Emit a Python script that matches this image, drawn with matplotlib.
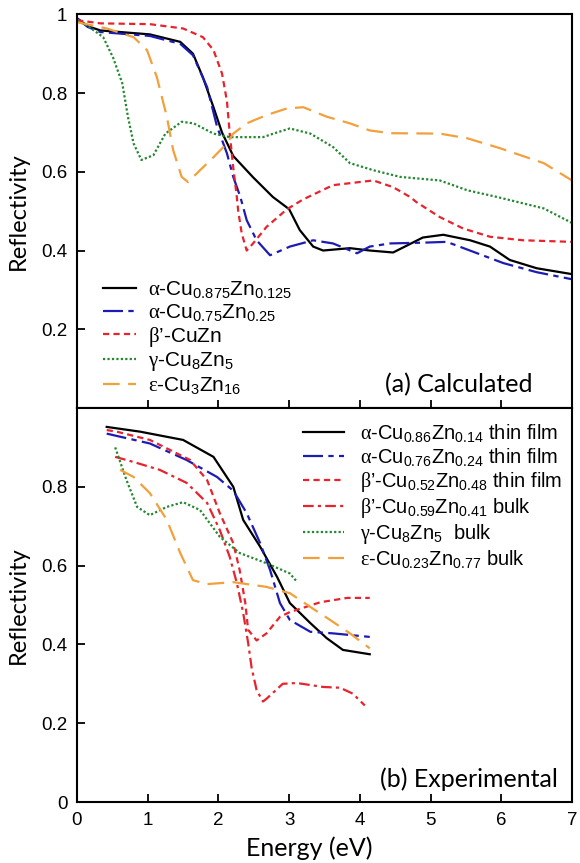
import matplotlib
matplotlib.use("Agg")
import matplotlib.pyplot as plt

plt.rcParams['font.family'] = ['Liberation Sans', 'DejaVu Sans']
plt.rcParams['mathtext.fontset'] = 'custom'
plt.rcParams['mathtext.rm'] = 'Liberation Sans'
plt.rcParams['mathtext.it'] = 'Liberation Serif'
plt.rcParams['mathtext.bf'] = 'Liberation Sans:bold'

# ---------------- (a) Calculated ----------------
calc_black_x = [0, 0.15, 0.33, 1.03, 1.46, 1.64, 1.78, 1.93, 2.05, 2.21, 2.49, 2.77, 3.0, 3.15, 3.34, 3.48, 3.86, 4.14, 4.47, 4.67, 4.89, 5.18, 5.56, 5.84, 6.12, 6.5, 7.0]
calc_black_y = [0.99, 0.97, 0.959, 0.949, 0.93, 0.90, 0.84, 0.764, 0.70, 0.64, 0.586, 0.536, 0.505, 0.452, 0.41, 0.40, 0.406, 0.40, 0.395, 0.413, 0.433, 0.44, 0.426, 0.41, 0.376, 0.355, 0.34]

calc_blue_x = [0, 0.15, 0.33, 1.03, 1.46, 1.64, 1.84, 1.98, 2.12, 2.21, 2.31, 2.4, 2.54, 2.73, 3.01, 3.34, 3.62, 3.96, 4.14, 4.43, 4.9, 5.23, 5.66, 6.03, 6.5, 7.0]
calc_blue_y = [0.99, 0.968, 0.955, 0.945, 0.925, 0.896, 0.815, 0.715, 0.647, 0.587, 0.536, 0.477, 0.426, 0.388, 0.41, 0.426, 0.418, 0.393, 0.41, 0.418, 0.42, 0.422, 0.393, 0.368, 0.345, 0.327]

calc_red_x = [0, 0.33, 1.03, 1.5, 1.78, 1.93, 2.05, 2.12, 2.16, 2.21, 2.26, 2.28, 2.33, 2.4, 2.49, 2.68, 2.97, 3.2, 3.62, 4.19, 4.47, 4.71, 4.8, 5.13, 5.46, 5.84, 6.31, 7.0]
calc_red_y = [0.985, 0.977, 0.975, 0.964, 0.942, 0.909, 0.85, 0.78, 0.697, 0.61, 0.536, 0.50, 0.443, 0.40, 0.418, 0.46, 0.505, 0.53, 0.566, 0.578, 0.561, 0.536, 0.523, 0.485, 0.456, 0.435, 0.426, 0.422]

calc_green_x = [0, 0.18, 0.37, 0.51, 0.64, 0.72, 0.8, 0.91, 1.08, 1.25, 1.48, 1.65, 1.93, 2.16, 2.4, 2.63, 2.83, 3.01, 3.3, 3.62, 3.86, 4.19, 4.57, 5.13, 5.52, 5.94, 6.6, 7.0]
calc_green_y = [0.985, 0.967, 0.942, 0.89, 0.825, 0.74, 0.672, 0.63, 0.642, 0.697, 0.727, 0.723, 0.697, 0.688, 0.688, 0.688, 0.70, 0.71, 0.697, 0.663, 0.622, 0.604, 0.587, 0.578, 0.553, 0.536, 0.507, 0.47]

calc_orange_x = [0, 0.42, 0.8, 0.99, 1.13, 1.27, 1.36, 1.48, 1.57, 1.74, 1.93, 2.12, 2.21, 2.4, 2.68, 2.97, 3.2, 3.53, 3.86, 4.14, 4.43, 5.13, 5.52, 5.98, 6.6, 7.0]
calc_orange_y = [0.98, 0.964, 0.942, 0.909, 0.84, 0.74, 0.655, 0.587, 0.574, 0.604, 0.637, 0.672, 0.697, 0.723, 0.744, 0.761, 0.764, 0.74, 0.723, 0.705, 0.698, 0.697, 0.685, 0.66, 0.622, 0.578]

calc_labels = [
    r"$\alpha$-Cu$_{\mathrm{0.875}}$Zn$_{\mathrm{0.125}}$",
    r"$\alpha$-Cu$_{\mathrm{0.75}}$Zn$_{\mathrm{0.25}}$",
    r"$\beta$’-CuZn",
    r"$\gamma$-Cu$_{\mathrm{8}}$Zn$_{\mathrm{5}}$",
    r"$\varepsilon$-Cu$_{\mathrm{3}}$Zn$_{\mathrm{16}}$",
]

# ---------------- (b) Experimental ----------------
exp_black_x = [0.42, 0.89, 1.5, 1.93, 2.21, 2.35, 2.59, 2.83, 3.01, 3.3, 3.53, 3.76, 4.14]
exp_black_y = [0.952, 0.94, 0.919, 0.876, 0.80, 0.716, 0.648, 0.571, 0.505, 0.454, 0.416, 0.386, 0.375]

exp_blue_x = [0.42, 0.54, 1.03, 1.55, 1.98, 2.21, 2.4, 2.59, 2.73, 2.87, 3.01, 3.3, 3.62, 4.14]
exp_blue_y = [0.935, 0.93, 0.91, 0.868, 0.825, 0.79, 0.733, 0.657, 0.589, 0.505, 0.462, 0.432, 0.428, 0.419]

exp_redfilm_x = [0.42, 0.56, 1.03, 1.6, 1.84, 2.02, 2.21, 2.3, 2.38, 2.42, 2.54, 2.68, 2.87, 3.01, 3.44, 3.82, 4.14]
exp_redfilm_y = [0.944, 0.94, 0.919, 0.868, 0.817, 0.733, 0.657, 0.589, 0.505, 0.437, 0.41, 0.428, 0.47, 0.482, 0.507, 0.518, 0.518]

exp_redbulk_x = [0.54, 0.8, 1.17, 1.55, 1.84, 2.02, 2.16, 2.26, 2.35, 2.42, 2.47, 2.54, 2.63, 2.68, 2.91, 3.11, 3.48, 3.72, 3.9, 4.07]
exp_redbulk_y = [0.876, 0.863, 0.843, 0.81, 0.759, 0.69, 0.622, 0.556, 0.48, 0.404, 0.34, 0.284, 0.255, 0.262, 0.30, 0.302, 0.292, 0.29, 0.275, 0.245]

exp_green_x = [0.54, 0.7, 0.85, 1.03, 1.27, 1.5, 1.74, 2.02, 2.3, 2.68, 3.01, 3.11]
exp_green_y = [0.90, 0.817, 0.749, 0.728, 0.749, 0.761, 0.741, 0.673, 0.632, 0.606, 0.58, 0.559]

exp_orange_x = [0.61, 0.8, 1.03, 1.27, 1.46, 1.64, 1.84, 2.21, 2.68, 3.01, 3.3, 3.58, 3.86, 4.14]
exp_orange_y = [0.843, 0.825, 0.784, 0.716, 0.632, 0.563, 0.553, 0.558, 0.546, 0.53, 0.495, 0.462, 0.428, 0.39]

exp_labels = [
    r"$\alpha$-Cu$_{\mathrm{0.86}}$Zn$_{\mathrm{0.14}}$ thin film",
    r"$\alpha$-Cu$_{\mathrm{0.76}}$Zn$_{\mathrm{0.24}}$ thin film",
    r"$\beta$’-Cu$_{\mathrm{0.52}}$Zn$_{\mathrm{0.48}}$ thin film",
    r"$\beta$’-Cu$_{\mathrm{0.59}}$Zn$_{\mathrm{0.41}}$ bulk",
    r"$\gamma$-Cu$_{\mathrm{8}}$Zn$_{\mathrm{5}}$  bulk",
    r"$\varepsilon$-Cu$_{\mathrm{0.23}}$Zn$_{\mathrm{0.77}}$ bulk",
]

x_ticks = [0, 1, 2, 3, 4, 5, 6, 7]
top_yticks = [0.2, 0.4, 0.6, 0.8, 1.0]
top_yticklabels = ['0.2', '0.4', '0.6', '0.8', '1']
bot_yticks = [0, 0.2, 0.4, 0.6, 0.8]
bot_yticklabels = ['0', '0.2', '0.4', '0.6', '0.8']

# ---------------- styles ----------------
C_BLACK = '#000000'
C_BLUE = '#1c1cb4'
C_RED = '#e8232d'
C_GREEN = '#23882f'
C_ORANGE = '#f2a03c'
LW = 1.6
DASH_BLUE = (0, (9.0, 2.4, 2.4, 2.4))
DASH_RED = (0, (2.8, 1.9))
DASH_DOT = (0, (1.0, 1.0))
DASH_ORANGE = (0, (7.5, 3.8))
DASH_REDBULK = (0, (4.8, 1.9, 1.4, 1.9))

W, H = 580, 863
fig = plt.figure(figsize=(W / 100, H / 100), dpi=100)
L = 77 / W
R = 572 / W
ax1 = fig.add_axes([L, 1 - 408 / H, R - L, (408 - 14.3) / H])
ax2 = fig.add_axes([L, 1 - 802 / H, R - L, (802 - 408) / H])

ax1.plot(calc_black_x, calc_black_y, color=C_BLACK, lw=LW, label=calc_labels[0])
ax1.plot(calc_blue_x, calc_blue_y, color=C_BLUE, lw=LW, ls=DASH_BLUE, label=calc_labels[1])
ax1.plot(calc_red_x, calc_red_y, color=C_RED, lw=LW, ls=DASH_RED, label=calc_labels[2])
ax1.plot(calc_green_x, calc_green_y, color=C_GREEN, lw=LW, ls=DASH_DOT, label=calc_labels[3])
ax1.plot(calc_orange_x, calc_orange_y, color=C_ORANGE, lw=LW, ls=DASH_ORANGE, label=calc_labels[4])

ax2.plot(exp_black_x, exp_black_y, color=C_BLACK, lw=LW, label=exp_labels[0])
ax2.plot(exp_blue_x, exp_blue_y, color=C_BLUE, lw=LW, ls=DASH_BLUE, label=exp_labels[1])
ax2.plot(exp_redfilm_x, exp_redfilm_y, color=C_RED, lw=LW, ls=DASH_RED, label=exp_labels[2])
ax2.plot(exp_redbulk_x, exp_redbulk_y, color=C_RED, lw=LW, ls=DASH_REDBULK, label=exp_labels[3])
ax2.plot(exp_green_x, exp_green_y, color=C_GREEN, lw=LW, ls=DASH_DOT, label=exp_labels[4])
ax2.plot(exp_orange_x, exp_orange_y, color=C_ORANGE, lw=LW, ls=DASH_ORANGE, label=exp_labels[5])

for ax in (ax1, ax2):
    ax.set_xlim(0, 7)
    ax.set_ylim(0, 1)
    ax.set_xticks(x_ticks)
    ax.tick_params(direction='in', length=5.5, width=1.3, labelsize=13.5, pad=7,
                   top=False, right=False)
    for s in ax.spines.values():
        s.set_linewidth(1.5)

ax1.set_yticks(top_yticks)
ax1.set_yticklabels(top_yticklabels)
ax1.tick_params(axis='x', labelbottom=False)
ax2.set_yticks(bot_yticks)
ax2.set_yticklabels(bot_yticklabels)

lab_font = dict(family=['Lato', 'DejaVu Sans'], fontsize=18)
ylab_font = dict(family=['Lato', 'DejaVu Sans'], fontsize=17)
fig.text(18 / W, 1 - 211 / H, 'Reflectivity', rotation=90, ha='center', va='center', **ylab_font)
fig.text(18 / W, 1 - 605 / H, 'Reflectivity', rotation=90, ha='center', va='center', **ylab_font)
fig.text(309 / W, 1 - 848 / H, 'Energy (eV)', ha='center', va='center', **lab_font)

ax1.text(4.36, 0.04, '(a) Calculated', ha='left', va='baseline', **lab_font)
ax2.text(4.29, 0.038, '(b) Experimental', ha='left', va='baseline', **lab_font)

leg1 = ax1.legend(loc='center left', bbox_to_anchor=(103 / W, 1 - 337.6 / H),
                  bbox_transform=fig.transFigure, frameon=False, fontsize=15,
                  handlelength=1.6, handletextpad=0.58, labelspacing=0.08,
                  borderpad=0, borderaxespad=0)
leg2 = ax2.legend(loc='center left', bbox_to_anchor=(303 / W, 1 - 496 / H),
                  bbox_transform=fig.transFigure, frameon=False, fontsize=14.5,
                  handlelength=2.05, handletextpad=0.78, labelspacing=0.1,
                  borderpad=0, borderaxespad=0)

fig.savefig('out.png', dpi=100)
